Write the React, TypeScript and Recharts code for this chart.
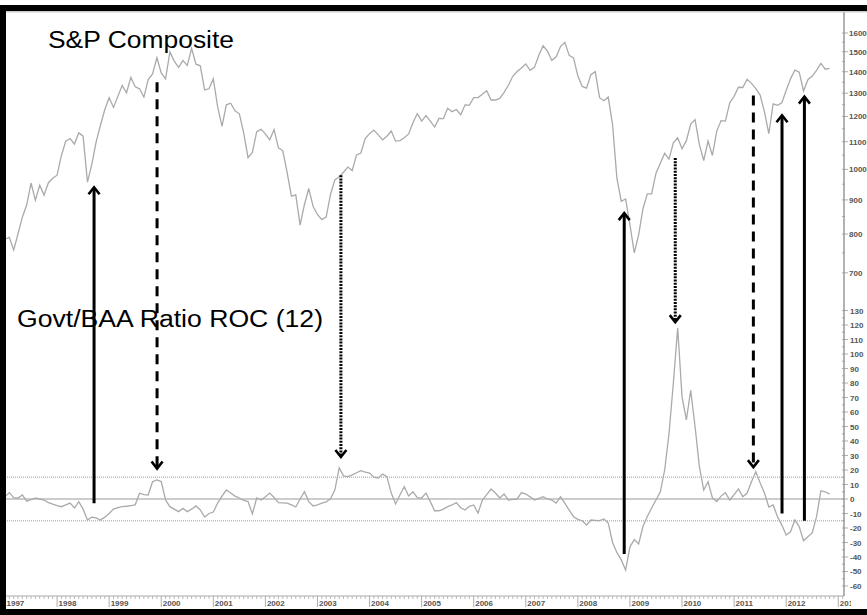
import React from 'react';
import { LineChart, Line, XAxis, YAxis, ReferenceLine } from 'recharts';

// Monthly data, Jan 1997 .. Nov 2012
const START_YEAR = 1997;

const YEAR_LABELS = [1997, 1998, 1999, 2000, 2001, 2002, 2003, 2004, 2005, 2006, 2007, 2008, 2009, 2010, 2011, 2012, 2013];
const SP_TICKS = [700, 800, 900, 1000, 1100, 1200, 1300, 1400, 1500, 1600];
const ROC_TICKS = [-60, -50, -40, -30, -20, -10, 0, 10, 20, 30, 40, 50, 60, 70, 80, 90, 100, 110, 120, 130];

const spComposite = [
  786, 791, 757, 801, 848, 885, 954, 899, 947, 915, 955, 970,
  980, 1049, 1102, 1112, 1091, 1134, 1121, 957, 1017, 1099, 1164, 1229,
  1280, 1238, 1286, 1335, 1302, 1373, 1329, 1320, 1283, 1363, 1389, 1469,
  1394, 1366, 1499, 1452, 1421, 1455, 1431, 1518, 1437, 1429, 1315, 1320,
  1366, 1240, 1160, 1249, 1256, 1224, 1211, 1134, 1041, 1060, 1139, 1148,
  1130, 1107, 1147, 1077, 1067, 990, 912, 916, 825, 886, 936, 880,
  856, 841, 848, 917, 964, 975, 990, 1008, 996, 1051, 1058, 1112,
  1131, 1145, 1126, 1107, 1121, 1141, 1102, 1104, 1115, 1130, 1174, 1212,
  1181, 1204, 1181, 1157, 1192, 1191, 1234, 1220, 1229, 1207, 1249, 1248,
  1280, 1281, 1295, 1311, 1270, 1270, 1277, 1304, 1336, 1378, 1401, 1418,
  1438, 1407, 1421, 1482, 1531, 1503, 1455, 1474, 1527, 1549, 1481, 1468,
  1379, 1331, 1323, 1386, 1400, 1280, 1267, 1283, 1166, 969, 896, 903,
  826, 750, 798, 873, 919, 919, 987, 1021, 1057, 1036, 1096, 1115,
  1074, 1104, 1169, 1187, 1089, 1031, 1102, 1049, 1141, 1183, 1181, 1258,
  1286, 1327, 1326, 1364, 1345, 1321, 1292, 1219, 1131, 1253, 1247, 1258,
  1312, 1366, 1408, 1398, 1310, 1362, 1379, 1407, 1441, 1412, 1416,
];

const govtBaaRoc = [
  1.5, 4.4, 1, 0.7, 2.8, -1.5, -0.5, 0.7, 0, -0.7, -2.5, -3.5,
  -4.5, -5.3, -4, -2.8, -6.2, -1.8, -7, -14.5, -12.5, -13, -14.5, -12.5,
  -10, -7, -6, -5.3, -5, -4.5, -4, 4, 3, 2.8, 11.9, 13.1,
  12, -0.7, -5.3, -7, -8.7, -6.5, -8.7, -7, -4.8, -7.6, -12.4, -10,
  -9, -2.8, 2, 6.2, 4.1, 2, 0.7, -1, -1.8, -10.3, 0.7, -0.7,
  1.6, 4.1, 1, -2.5, -2.6, -2.8, -4.1, -5.5, 0, 5, -1.8, -4.8,
  -4, -2.8, -2, 0.2, 6.2, 21.4, 16, 15.4, 16.6, 18.1, 19.5, 18.5,
  17.9, 15, 14.5, 17.2, 15.4, 4.1, -3.4, 2.8, 8.5, 2.1, 5, 1,
  0.7, 4.1, -1.8, -8.1, -8.1, -7, -5.3, -4.1, -2.5, -6, -7.6, -5,
  -4.1, -9.7, -0.7, 3, 6.9, 4.1, 0.7, 3.4, -0.7, -0.2, 0, 4.4,
  3.4, 1.5, -0.7, 0.5, 1.6, 0, -0.7, -2.8, 1.6, -3, -7.6, -12.2,
  -14, -15, -17.9, -14.5, -14.7, -14.9, -13.8, -16.6, -30, -37, -42, -49,
  -33, -28, -31, -19, -12, -6.2, -0.7, 5, 20, 45, 80, 118,
  70.6, 54.5, 75, 50, 22.3, 6.2, 11.9, 0.7, -1.8, 2, 4.4, -0.7,
  3, 6.9, 1.6, 4.1, 11.9, 18.8, 11, 4.1, -5.5, -4.1, -12.2, -18,
  -24.8, -22.6, -14.5, -19, -28.8, -26, -23.4, -12.2, 5.7, 5, 3.4,
];

// annotation arrows: year, ROC end, S&P end, line style
const arrowYears = [1998.71, 1999.92, 2003.45, 2008.89, 2009.87, 2011.37, 2011.92, 2012.35];
const arrowRoc = [-3, 21, 29, -38, 122, 22, -10, -15];
const arrowSp = [940, 1350, 980, 860, 1040, 1290, 1205, 1285];
const arrowKind = ['solid', 'dashed', 'dotted', 'solid', 'dotted', 'dashed', 'solid', 'solid'];

// both panels share one plot area; each axis domain places its series in its own band
const SP_DOMAIN = [229.8, 1720];
const ROC_DOMAIN = [-66.9, 335.9];
const X_DOMAIN = [1997, 2013.11];

const rows = spComposite.map((v, i) => ({
  t: START_YEAR + i / 12,
  sp: v,
  roc: govtBaaRoc[i],
}));

const monthTicks: number[] = [];
YEAR_LABELS.forEach((yr) => {
  for (let m = 0; m < 12; m++) {
    const t = yr + m / 12;
    if (t <= X_DOMAIN[1]) monthTicks.push(t);
  }
});

const spTicksAll: number[] = [];
SP_TICKS.forEach((v) => {
  spTicksAll.push(v);
  if (v < 1600) spTicksAll.push(v + 50);
});
const rocTicksAll: number[] = [];
ROC_TICKS.forEach((v) => {
  rocTicksAll.push(v);
  if (v < 130) rocTicksAll.push(v + 5);
});

// S&P value expressed on the ROC axis, so an arrow can run across both panels
const spOnRocAxis = (v: number) => {
  const f = Math.log(SP_DOMAIN[1] / v) / Math.log(SP_DOMAIN[1] / SP_DOMAIN[0]);
  return ROC_DOMAIN[1] - f * (ROC_DOMAIN[1] - ROC_DOMAIN[0]);
};

const TICK_FONT = '"Liberation Sans Narrow", "Liberation Sans", Arial, sans-serif';
const TITLE_FONT = '"Liberation Sans", Arial, sans-serif';

function XTick(props: any) {
  const { x, y, payload, index } = props;
  const v = payload.value;
  const isYear = Math.abs(v - Math.round(v)) < 1e-6;
  if (!isYear) {
    return <line x1={x} x2={x} y1={y} y2={y + 3} stroke="#aaa" strokeWidth={0.8} />;
  }
  const id = `xclip-${index}`;
  return (
    <g>
      <defs>
        <clipPath id={id}>
          <rect x={0} y={0} width={851} height={615} />
        </clipPath>
      </defs>
      <g clipPath={`url(#${id})`}>
        <line x1={x} x2={x} y1={y} y2={y + 11} stroke="#999" strokeWidth={0.8} />
        <text x={x + 1.5} y={y + 10} fontSize={8} fontWeight="bold" fontFamily={TICK_FONT} fill="#555">
          {Math.round(v)}
        </text>
      </g>
    </g>
  );
}

function SpTick(props: any) {
  const { x, y, payload } = props;
  const major = payload.value % 100 === 0;
  return (
    <g>
      <line x1={x - 2} x2={x + (major ? 4 : 1)} y1={y} y2={y} stroke="#999" strokeWidth={0.8} />
      {major && (
        <text x={x + 5} y={y + 3} fontSize={8} fontWeight="bold" fontFamily={TICK_FONT} fill="#555">
          {payload.value}
        </text>
      )}
    </g>
  );
}

function RocTick(props: any) {
  const { x, y, payload } = props;
  const major = payload.value % 10 === 0;
  return (
    <g>
      <line x1={x - 2} x2={x + (major ? 4 : 1)} y1={y} y2={y} stroke="#999" strokeWidth={0.8} />
      {major && (
        <text x={x + 6} y={y + 3} fontSize={8} fontWeight="bold" fontFamily={TICK_FONT} fill="#555">
          {payload.value}
        </text>
      )}
    </g>
  );
}

function Arrow(props: any) {
  const { x1, y1, x2, y2, kind } = props;
  const up = y2 < y1;
  const d = up ? 1 : -1;
  const dash = kind === 'dashed' ? '10 7' : kind === 'dotted' ? '2 1.2' : undefined;
  return (
    <g>
      <line x1={x1} y1={y1} x2={x2} y2={y2 + d * 1.5} stroke="#000" strokeWidth={3} strokeDasharray={dash} />
      <polyline
        points={`${x2 - 5.5},${y2 + d * 7} ${x2},${y2} ${x2 + 5.5},${y2 + d * 7}`}
        fill="none"
        stroke="#000"
        strokeWidth={2.6}
      />
    </g>
  );
}

export default function App() {
  return (
    <div style={{ position: 'absolute', left: 0, top: 0, width: 867, height: 615, background: '#fff', overflow: 'hidden' }}>
      <LineChart width={867} height={615} data={rows} margin={{ top: 12, right: 0, bottom: 0, left: 5 }}>
        <XAxis
          dataKey="t"
          type="number"
          domain={X_DOMAIN}
          allowDataOverflow
          ticks={monthTicks}
          interval={0}
          tick={<XTick />}
          tickSize={0}
          tickMargin={0}
          tickLine={false}
          axisLine={{ stroke: '#aaa' }}
          height={19}
        />
        <YAxis
          yAxisId="sp"
          orientation="right"
          scale="log"
          type="number"
          domain={SP_DOMAIN}
          allowDataOverflow
          ticks={spTicksAll}
          interval={0}
          tick={<SpTick />}
          tickSize={0}
          tickMargin={0}
          tickLine={false}
          axisLine={{ stroke: '#999' }}
          width={23}
        />
        <YAxis
          yAxisId="roc"
          orientation="right"
          type="number"
          domain={ROC_DOMAIN}
          allowDataOverflow
          ticks={rocTicksAll}
          interval={0}
          tick={<RocTick />}
          tickSize={0}
          tickMargin={0}
          tickLine={false}
          axisLine={{ stroke: '#999' }}
          width={0.01}
        />
        <ReferenceLine yAxisId="roc" y={15} stroke="#bbb" strokeWidth={1.5} strokeDasharray="1 1" />
        <ReferenceLine yAxisId="roc" y={-15} stroke="#bbb" strokeWidth={1.5} strokeDasharray="1 1" />
        <ReferenceLine yAxisId="roc" y={0} stroke="#999" strokeWidth={1.2} />
        <Line
          yAxisId="sp"
          dataKey="sp"
          type="linear"
          stroke="#aaa"
          strokeWidth={1.3}
          dot={false}
          isAnimationActive={false}
        />
        <Line
          yAxisId="roc"
          dataKey="roc"
          type="linear"
          stroke="#aaa"
          strokeWidth={1.3}
          dot={false}
          isAnimationActive={false}
        />
        {arrowYears.map((yr, i) => {
          const up = arrowKind[i] === 'solid';
          const rocEnd = { x: yr, y: arrowRoc[i] };
          const spEnd = { x: yr, y: spOnRocAxis(arrowSp[i]) };
          return (
            <ReferenceLine
              key={i}
              yAxisId="roc"
              segment={up ? [rocEnd, spEnd] : [spEnd, rocEnd]}
              ifOverflow="visible"
              shape={(p: any) => <Arrow {...p} kind={arrowKind[i]} />}
            />
          );
        })}
      </LineChart>
      <svg width={867} height={615} style={{ position: 'absolute', left: 0, top: 0, pointerEvents: 'none' }}>
        <text x={48} y={48} fontSize={23.5} textLength={186} lengthAdjust="spacingAndGlyphs" fontFamily={TITLE_FONT} fill="#000">
          S&amp;P Composite
        </text>
        <text x={17} y={327} fontSize={23.5} textLength={306} lengthAdjust="spacingAndGlyphs" fontFamily={TITLE_FONT} fill="#000">
          Govt/BAA Ratio ROC (12)
        </text>
        <rect x={6} y={11} width={861} height={1.5} fill="#ccc" />
        <rect x={0} y={5} width={867} height={6} fill="#000" />
        <rect x={0} y={5} width={6} height={610} fill="#000" />
        <rect x={0} y={609} width={867} height={6} fill="#000" />
      </svg>
    </div>
  );
}
